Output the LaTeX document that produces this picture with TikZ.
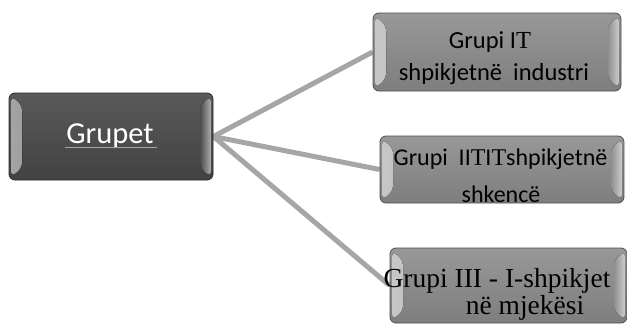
\documentclass[tikz,border=0pt]{standalone}
\usepackage{fontspec}
\setmainfont{Carlito}
\newfontfamily\tms{Liberation Serif}
\usetikzlibrary{backgrounds,calc}
\definecolor{darkbox}{HTML}{4B4B4B}
\definecolor{lightbox}{HTML}{8F8F8F}
\definecolor{connector}{HTML}{A6A6A6}
\tikzset{
  box/.style={rounded corners=6pt, inner sep=0pt, draw=#1!55!black, line width=0.8pt,
    top color=#1!92!white, bottom color=#1!88!black,
    path picture={
      \fill[left color=#1!50!white, right color=#1]
        ([xshift=2pt,yshift=3pt]path picture bounding box.south west) --
        ([xshift=2pt,yshift=-3pt]path picture bounding box.north west) --
        ([xshift=13pt,yshift=-12pt]path picture bounding box.north west) --
        ([xshift=13pt,yshift=12pt]path picture bounding box.south west) -- cycle;
      \fill[left color=#1, right color=#1!45!white]
        ([xshift=-2pt,yshift=3pt]path picture bounding box.south east) --
        ([xshift=-2pt,yshift=-3pt]path picture bounding box.north east) --
        ([xshift=-13pt,yshift=-12pt]path picture bounding box.north east) --
        ([xshift=-13pt,yshift=12pt]path picture bounding box.south east) -- cycle;
    }},
  lbl/.style={anchor=base, inner sep=0pt, text=black},
  link/.style={draw=connector, line width=5pt}
}
\begin{document}
\begin{tikzpicture}[x=1pt,y=1pt]
\useasboundingbox (0,0) rectangle (627,325);
% boxes
\node[box=darkbox, minimum width=204pt, minimum height=87pt] (L) at (111,188.5) {};
\node[box=lightbox, minimum width=248pt, minimum height=78pt] (A) at (497,273) {};
\node[box=lightbox, minimum width=244pt, minimum height=67pt] (B) at (502,155.5) {};
\node[box=lightbox, minimum width=237pt, minimum height=75pt] (C) at (508.5,39.5) {};
% connectors
\begin{scope}[on background layer]
\draw[link] (L.east) -- (A.west);
\draw[link] (L.east) -- (B.west);
\draw[link] (L.east) -- (C.west);
\end{scope}
% texts
\node[lbl, text=white, font=\fontsize{30.5}{36}\selectfont] (Lt) at (110,182) {Grupet};
\draw[gray!70, line width=0.6pt] ($(L.center)+(-46,-10.5)$) -- ($(L.center)+(46,-10.5)$);
\node[lbl, font=\fontsize{24.5}{28}\selectfont] (At1) at (490,277) {Grupi I{\tms T}};
\node[lbl, font=\fontsize{24.5}{28}\selectfont] (At2) at (494,245) {shpikjetnë\ \ industri};
\node[lbl, font=\fontsize{24}{28}\selectfont] (Bt1) at (500.5,160) {Grupi\ \ II{\tms T}I{\tms T}shpikjetnë};
\node[lbl, font=\fontsize{24}{28}\selectfont] (Bt2) at (501,123) {shkencë};
\node[lbl, font=\fontsize{27.5}{30}\tms] (Ct1) at (497,38) {Grupi III - I-shpikjet};
\node[lbl, font=\fontsize{27.5}{30}\tms] (Ct2) at (525,11) {në mjekësi};
\end{tikzpicture}
\end{document}
